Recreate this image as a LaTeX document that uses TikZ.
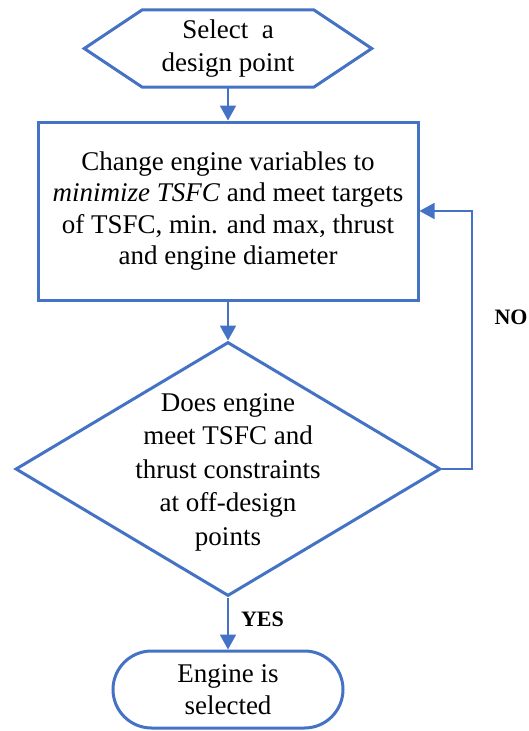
\documentclass[tikz,border=0pt]{standalone}
\usepackage{fontspec}
\setmainfont{Liberation Serif}
\usetikzlibrary{arrows.meta,shapes.geometric}
\definecolor{ink}{HTML}{4472C4}
\tikzset{
  shapeline/.style={draw=ink,line width=3pt},
  plain/.style={align=center,inner sep=0pt,font=\fontsize{27}{32.5}\selectfont},
  box/.style={shapeline,rectangle,align=center,inner sep=0pt,font=\fontsize{27}{31.6}\selectfont},
  decision/.style={shapeline,diamond,inner sep=0pt},
  term/.style={shapeline,rectangle,rounded corners=38.5pt,align=center,inner sep=0pt,font=\fontsize{27}{32}\selectfont},
  flow/.style={-{Triangle[width=16pt,length=15pt]},draw=ink,line width=2pt},
  backflow/.style={-{Triangle[width=16pt,length=15pt]},draw=ink,line width=1.6pt},
  lbl/.style={font=\fontsize{22}{26}\selectfont\bfseries,inner sep=0pt}}
\begin{document}
\begin{tikzpicture}[x=1pt,y=-1pt]
  \useasboundingbox (0,0) rectangle (528,731);
  \node[plain,minimum width=171,minimum height=77] (sel) at (228,48.5) {Select\ \ a\\design point};
  \draw[shapeline] (sel.north west) -- (sel.north east) -- ([xshift=58pt]sel.east) -- (sel.south east)
    -- (sel.south west) -- ([xshift=-58pt]sel.west) -- cycle;
  \node[box,minimum width=380,minimum height=178] (chg) at (228,211)
    {Change engine variables to\\\textit{minimize TSFC} and meet targets\\of TSFC, min. and max, thrust\\and engine diameter};
  \node[decision,minimum width=425,minimum height=254] (chk) at (228,469) {};
  \node[plain,font=\fontsize{27}{33.5}\selectfont] (chktxt) at (228,472) {Does engine\\meet TSFC and\\thrust constraints\\at off-design\\points};
  \node[term,minimum width=230,minimum height=77] (eng) at (228,689.5) {Engine is\\selected};
  \draw[flow] (sel.south) -- (chg.north);
  \draw[flow] (chg.south) -- (chk.north);
  \draw[flow] (chk.south) -- (eng.north);
  \draw[backflow] (chk.east) -- ++(30,0) |- (chg.east);
  \node[lbl] (no) at (511,317) {NO};
  \node[lbl] (yes) at (262.5,619) {YES};
\end{tikzpicture}
\end{document}
